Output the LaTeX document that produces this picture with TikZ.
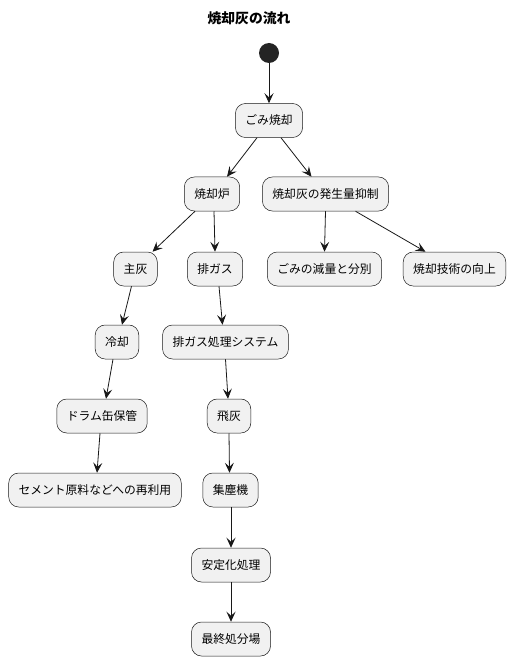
\documentclass[tikz,border=0pt]{standalone}
\usepackage{fontspec}
\setmainfont{Noto Sans CJK JP}
\usetikzlibrary{arrows.meta}
\definecolor{boxfill}{HTML}{F1F1F1}
\definecolor{boxline}{HTML}{181818}
\begin{document}
\begin{tikzpicture}[x=1pt,y=-1pt,
  act/.style={draw=boxline,line width=0.5pt,fill=boxfill,rounded corners=10pt,
    minimum height=34pt,inner xsep=10pt,font=\fontsize{11.8}{13}\selectfont},
  arr/.style={draw=boxline,line width=0.8pt,-{Stealth[length=10pt,width=9pt,inset=4pt]}}]
\useasboundingbox (0,0) rectangle (511,660);
\node[font=\bfseries\fontsize{13.8}{15}\selectfont] (title) at (249,18) {焼却灰の流れ};
\node[circle,fill=boxline!95!white,minimum size=20pt,inner sep=0] (start) at (269,53) {};
\node[act] (gomi) at (269,120.5) {ごみ焼却};
\node[act] (ro) at (212,194) {焼却炉};
\node[act] (yokusei) at (325.5,194) {焼却灰の発生量抑制};
\node[act] (shuhai) at (135.5,269) {主灰};
\node[act] (haigas) at (215,269) {排ガス};
\node[act] (genryo) at (324.5,269) {ごみの減量と分別};
\node[act] (gijutsu) at (454.5,269) {焼却技術の向上};
\node[act] (reikyaku) at (117,342) {冷却};
\node[act] (shori) at (225.5,342) {排ガス処理システム};
\node[act] (drum) at (102,416) {ドラム缶保管};
\node[act] (hihai) at (229,416) {飛灰};
\node[act] (cement) at (95,490) {セメント原料などへの再利用};
\node[act] (shujin) at (230.5,490) {集塵機};
\node[act] (antei) at (231,565) {安定化処理};
\node[act] (saishu) at (231,639) {最終処分場};
\draw[arr] (start) -- (gomi.north);
\draw[arr] ([xshift=-12pt]gomi.south) -- ([xshift=15pt]ro.north);
\draw[arr] ([xshift=12pt]gomi.south) -- ([xshift=-14pt]yokusei.north);
\draw[arr] ([xshift=-17pt]ro.south) -- ([xshift=17pt]shuhai.north);
\draw[arr] ([xshift=2pt]ro.south) -- (haigas.north);
\draw[arr] (yokusei.south) -- (genryo.north);
\draw[arr] ([xshift=30pt]yokusei.south) -- ([xshift=-29pt]gijutsu.north);
\draw[arr] ([xshift=-4pt]shuhai.south) -- ([xshift=5pt]reikyaku.north);
\draw[arr] ([xshift=4pt]haigas.south) -- ([xshift=-3pt]shori.north);
\draw[arr] ([xshift=-4pt]reikyaku.south) -- ([xshift=4pt]drum.north);
\draw[arr] (shori.south) -- ([xshift=-1pt]hihai.north);
\draw[arr] ([xshift=-2pt]drum.south) -- ([xshift=2pt]cement.north);
\draw[arr] (hihai.south) -- ([xshift=-1pt]shujin.north);
\draw[arr] ([xshift=0.5pt]shujin.south) -- (antei.north);
\draw[arr] (antei.south) -- (saishu.north);
\end{tikzpicture}
\end{document}
